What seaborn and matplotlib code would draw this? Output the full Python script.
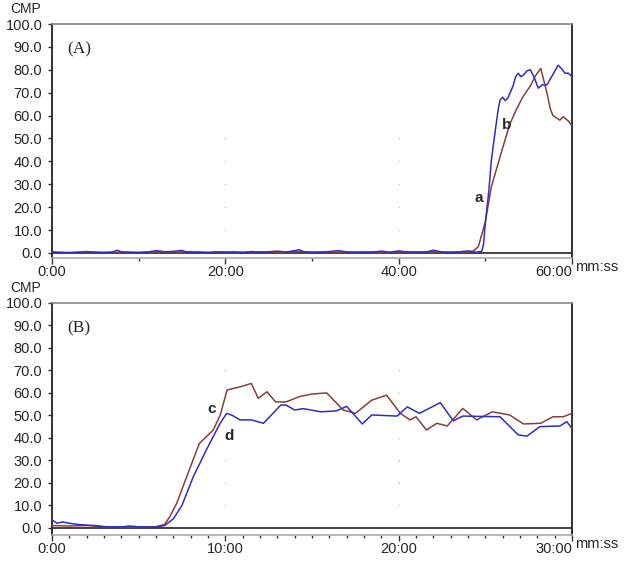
import matplotlib
matplotlib.use("Agg")
import matplotlib.pyplot as plt
import seaborn as sns
import pandas as pd
from matplotlib.ticker import MultipleLocator

sns.set_style("white")
plt.rcParams['font.family'] = ['Liberation Sans', 'DejaVu Sans']

# ---- Panel A data (minutes, CMP) ----
a_blue_t = [0, 1, 2, 3, 4, 5, 6, 7, 7.5, 8, 9, 10, 11, 12, 12.5, 13, 14, 15, 15.5, 16, 17, 18,
            19, 20, 21, 22, 23, 24, 25, 26, 27, 28, 28.5, 29, 30, 31, 32, 33, 34, 35, 36, 37,
            38, 39, 40, 41, 42, 43, 44, 45, 46, 47, 48, 49, 49.6, 49.8, 50.0, 50.4, 50.7, 51.2,
            51.5, 51.7, 52.0, 52.3, 52.6, 53.2, 53.5, 53.8, 54.1, 54.4, 54.8, 55.2, 55.6, 56.1,
            56.6, 57.1, 57.5, 57.8, 58.1, 58.4, 58.8, 59.2, 59.6, 60]
a_blue_v = [0.5, 0.2, 0.1, 0.3, 0.6, 0.3, 0.2, 0.4, 1.2, 0.5, 0.3, 0.2, 0.4, 1.0, 0.8, 0.5, 0.7,
            1.1, 0.4, 0.2, 0.3, 0.2, 0.5, 0.3, 0.4, 0.2, 0.6, 0.3, 0.5, 0.8, 0.4, 1.0, 1.4, 0.6,
            0.3, 0.4, 0.6, 1.0, 0.5, 0.3, 0.2, 0.4, 0.8, 0.3, 0.9, 0.4, 0.5, 0.3, 1.2, 0.4, 0.3,
            0.5, 0.9, 0.3, 0.8, 4.0, 13.0, 27.0, 40.6, 55.0, 63.0, 66.8, 68.0, 66.5, 67.7, 73.0,
            77.0, 78.5, 77.0, 77.7, 79.5, 80.0, 77.0, 72.0, 73.5, 73.4, 76.0, 78.0, 80.0, 82.0,
            80.5, 78.5, 78.5, 77.0]
a_red_t = [0, 2, 4, 6, 8, 10, 12, 14, 16, 18, 20, 22, 24, 26, 28, 30, 32, 34, 36, 38, 40, 42, 44,
           46, 48, 48.6, 49.2, 50.0, 50.7, 51.7, 52.8, 53.5, 54.3, 55.2, 55.8, 56.4, 57.1, 57.5,
           57.8, 58.2, 58.6, 59.0, 59.3, 59.6, 60]
a_red_v = [0.3, 0.2, 0.4, 0.2, 0.3, 0.2, 0.5, 0.3, 0.6, 0.2, 0.4, 0.3, 0.5, 0.2, 0.6, 0.3, 0.4,
           0.3, 0.5, 0.2, 0.4, 0.3, 0.5, 0.3, 0.4, 0.8, 2.8, 13.7, 29.0, 42.0, 56.0, 62.0, 68.0,
           73.0, 77.5, 80.6, 70.0, 63.0, 60.0, 59.0, 58.0, 59.5, 58.5, 57.5, 55.5]

# ---- Panel B data ----
b_blue_t = [0, 0.3, 0.6, 1.0, 1.5, 2, 2.5, 3, 4, 4.5, 5, 6, 6.5, 7, 7.5, 8.15, 8.9, 9.7, 10.08,
            10.4, 10.85, 11.5, 12.2, 13.2, 13.5, 14.0, 14.5, 15.5, 16.4, 17.0, 17.9, 18.45, 19.9,
            20.5, 21.2, 22.4, 23.15, 23.7, 25.85, 26.9, 27.4, 28.15, 29.3, 29.7, 30]
b_blue_v = [3.5, 2.0, 2.6, 2.0, 1.5, 1.2, 1.0, 0.5, 0.4, 0.8, 0.4, 0.3, 1.0, 4.0, 10.0, 22.7,
            34.6, 46.5, 50.9, 50.0, 48.0, 48.0, 46.5, 54.6, 54.6, 52.4, 53.0, 51.6, 52.0, 54.0,
            46.2, 50.2, 49.7, 53.8, 50.9, 55.7, 47.6, 49.7, 49.4, 41.3, 40.8, 45.0, 45.3, 47.2,
            44.2]
b_red_t = [0, 1, 2, 3, 4, 5, 6, 6.5, 6.8, 7.2, 7.77, 8.5, 9.3, 9.7, 10.1, 10.85, 11.5, 11.9,
           12.4, 12.9, 13.5, 14.3, 15.0, 15.85, 16.8, 17.5, 18.45, 19.3, 20.1, 20.65, 21.0, 21.6,
           22.2, 22.8, 23.7, 24.5, 25.4, 26.4, 27.2, 28.2, 28.9, 29.5, 30]
b_red_v = [1.0, 0.8, 1.0, 0.5, 0.3, 0.4, 0.5, 1.5, 5.0, 11.0, 22.7, 37.5, 43.5, 50.0, 61.3, 62.7,
           64.2, 57.6, 60.5, 56.0, 56.0, 58.4, 59.5, 60.0, 52.4, 50.9, 56.8, 59.0, 50.9, 48.0,
           49.4, 43.5, 46.5, 45.3, 53.1, 48.0, 51.6, 50.2, 46.2, 46.5, 49.4, 49.4, 50.9]

y_ticks = [0, 10, 20, 30, 40, 50, 60, 70, 80, 90, 100]
a_xticks = [0, 20, 40, 60]
a_xlabels = ["0:00", "20:00", "40:00", "60:00"]
b_xticks = [0, 10, 20, 30]
b_xlabels = ["0:00", "10:00", "20:00", "30:00"]
panel_labels = ["(A)", "(B)"]
curve_labels = [("a", "b"), ("c", "d")]

BLUE = "#2e2ec4"
RED = "#8a3f3a"

fig = plt.figure(figsize=(6.24, 5.61), dpi=100)
axA = fig.add_axes([52/624, 1-258/561, 520/624, 234/561])
axB = fig.add_axes([52/624, 1-535/561, 520/624, 232/561])


def style(ax, xticks, xlabels, minor, ylow, grid_x, grid_ytop):
    ax.set_xlim(xticks[0], xticks[-1])
    ax.set_ylim(ylow, 100)
    ax.set_yticks(y_ticks)
    ax.set_yticklabels([f"{v:.1f}" for v in y_ticks])
    ax.set_xticks(xticks)
    ax.set_xticklabels(xlabels)
    ax.xaxis.set_minor_locator(MultipleLocator(minor))
    ax.tick_params(axis='y', which='major', length=3, width=1, color='#333333',
                   labelsize=10.5, pad=4, left=True)
    ax.tick_params(axis='x', which='major', length=4, width=1, color='#333333',
                   labelsize=10.5, pad=1, bottom=True)
    ax.tick_params(axis='x', which='minor', length=2, width=1, color='#333333', bottom=True)
    ax.axhline(0, color='#222222', lw=1.2, zorder=1)
    for s in ['left', 'right']:
        ax.spines[s].set_color('#222222')
        ax.spines[s].set_linewidth(1.3)
    ax.spines['top'].set_color('#888888')
    ax.spines['top'].set_linewidth(1.2)
    ax.spines['bottom'].set_color('#aaaaaa')
    ax.spines['bottom'].set_linewidth(1.2)
    ax.set_xlabel("")
    ax.set_ylabel("")
    ax.get_xticklabels()[-1].set_horizontalalignment('right')
    gy = [v for v in y_ticks if 10 <= v <= grid_ytop]
    for gx in grid_x:
        ax.scatter([gx]*len(gy), gy, s=1.2, color='#bbbbbb', zorder=0, linewidths=0)
    ax.text(-0.08, 1.035, "CMP", transform=ax.transAxes, fontsize=10, ha='left', va='bottom')
    ax.text(1.005, -0.01, "mm:ss", transform=ax.transAxes, fontsize=10.5, ha='left', va='top')


dfA_b = pd.DataFrame({"t": a_blue_t, "v": a_blue_v})
dfA_r = pd.DataFrame({"t": a_red_t, "v": a_red_v})
dfB_b = pd.DataFrame({"t": b_blue_t, "v": b_blue_v})
dfB_r = pd.DataFrame({"t": b_red_t, "v": b_red_v})

sns.lineplot(data=dfA_r, x="t", y="v", ax=axA, color=RED, lw=1.1, zorder=3)
sns.lineplot(data=dfA_b, x="t", y="v", ax=axA, color=BLUE, lw=1.1, zorder=4)
sns.lineplot(data=dfB_r, x="t", y="v", ax=axB, color=RED, lw=1.1, zorder=3)
sns.lineplot(data=dfB_b, x="t", y="v", ax=axB, color=BLUE, lw=1.1, zorder=4)

style(axA, a_xticks, a_xlabels, 10, -2.2, [20, 40], 50)
style(axB, b_xticks, b_xlabels, 1, -3.2, [10, 20], 70)

axA.text(0.03, 0.89, panel_labels[0], transform=axA.transAxes, family='Liberation Serif',
         fontsize=12.5, va='center')
axB.text(0.03, 0.89, panel_labels[1], transform=axB.transAxes, family='Liberation Serif',
         fontsize=12.5, va='center')

axA.text(49.2, 24, curve_labels[0][0], fontsize=11, fontweight='bold', ha='center', va='center')
axA.text(52.4, 56, curve_labels[0][1], fontsize=11, fontweight='bold', ha='center', va='center')
axB.text(9.2, 53, curve_labels[1][0], fontsize=11, fontweight='bold', ha='center', va='center')
axB.text(10.2, 41, curve_labels[1][1], fontsize=11, fontweight='bold', ha='center', va='center')

fig.savefig("out.png", dpi=100)
